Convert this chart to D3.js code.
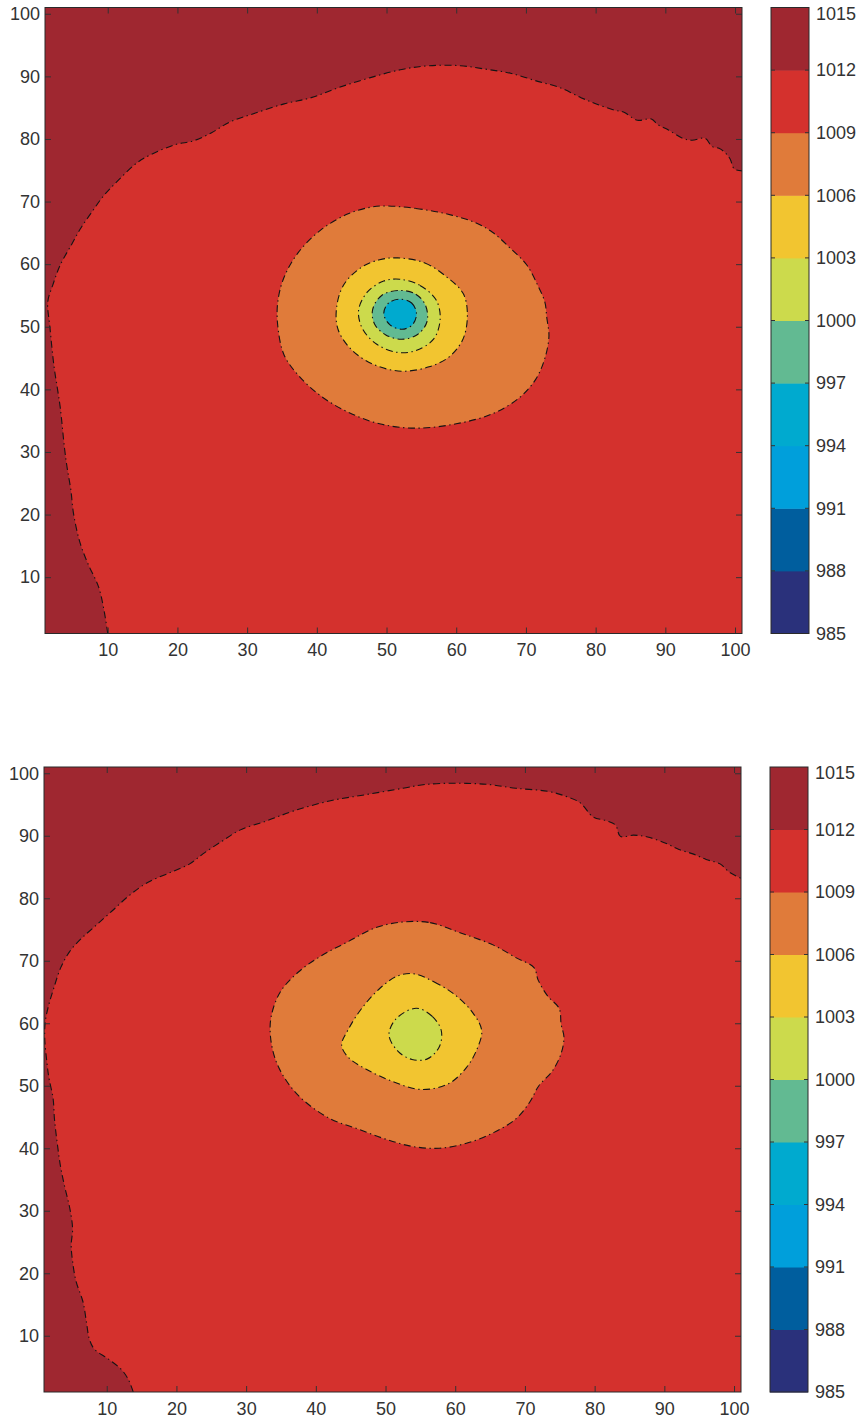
<!DOCTYPE html>
<html>
<head>
<meta charset="utf-8">
<script src="https://cdn.jsdelivr.net/npm/d3@7/dist/d3.min.js"></script>
<style>
  html, body { margin: 0; padding: 0; background: #ffffff; }
  svg { display: block; }
</style>
</head>
<body>
<svg id="chart" width="861" height="1422"></svg>
<script>
// ---- Contour levels and their fill colours (lowest band first) ----
const levels = [985, 988, 991, 994, 997, 1000, 1003, 1006, 1009, 1012, 1015];
const bandColors = [
  "#2a317b", // 985-988
  "#005e9e", // 988-991
  "#009fdb", // 991-994
  "#00aacf", // 994-997
  "#62ba92", // 997-1000
  "#ccda4c", // 1000-1003
  "#f2c530", // 1003-1006
  "#e07b3a", // 1006-1009
  "#d4312d", // 1009-1012
  "#9f2730"  // 1012-1015
];
const xTicks = [10, 20, 30, 40, 50, 60, 70, 80, 90, 100];
const yTicks = [10, 20, 30, 40, 50, 60, 70, 80, 90, 100];
const gridExtent = [1, 101];

// ---- Upper field: isobars as [x, y] grid coordinates ----
// 1012 hPa isobar runs from the bottom edge to the right edge
const upper1012 = [[10,1],[9.5,4.5],[8.7,8.4],[7.1,12.3],[6,15.6],[5.1,20.1],[4.7,24],[4.2,27.3],[3.8,30.6],[3.2,37],[2.8,40],[2.3,43.6],[1.7,50],[1.4,54],[2.1,56.6],[3.2,59.9],[4.8,63.1],[6.1,65.7],[7.7,68.3],[9.4,70.9],[11.6,73.5],[14.2,76.2],[16.2,77.5],[19.7,79.1],[22.3,79.7],[24.9,81],[27.5,82.7],[30.8,84],[35.3,85.6],[39.2,86.6],[43.1,88.2],[47.7,89.8],[52.2,91.1],[56.1,91.7],[60.6,91.7],[64.5,91.1],[67.8,90.5],[71.7,89.2],[74.9,88.2],[77.9,86.6],[80.1,85.6],[82.7,84.6],[84,84.3],[86,83],[88,83.2],[88.9,82.3],[90.5,81.4],[92.5,80.1],[93.8,79.8],[95.7,80.1],[96.7,78.8],[97.7,78.5],[98.6,77.8],[99.3,76.8],[99.9,75.2],[101,74.9]];
const upper1009 = [[49.9,69.3],[54.2,68.9],[58.7,68],[62.6,66.7],[65.2,65.1],[67.8,62.5],[70.1,59.9],[71.7,56.6],[72.7,54],[73,51.4],[73.3,48.5],[72.7,44.9],[71.4,41.6],[69.1,38.7],[65.2,36.1],[60,34.5],[54.2,33.8],[49,34.5],[44.4,36.4],[40.5,39],[37.3,42.3],[35.3,45.5],[34.4,50.1],[34.4,54],[35.3,57.9],[37.3,61.8],[40.5,65.4],[44.4,68],[47.7,69.1]];
const upper1006 = [[51.6,61],[55.5,60.2],[58.7,57.9],[61,55.3],[61.6,52.1],[61,48.1],[59,45.2],[56.1,43.6],[52.2,42.9],[48.3,43.9],[45.1,46.2],[43.1,49.4],[42.8,52.7],[43.8,56.6],[46.4,59.5],[49,60.7]];
const upper1003 = [[51.9,57.6],[54.8,56.6],[57.1,54.3],[57.7,51.4],[56.8,48.1],[54.2,46.2],[51.6,45.9],[48.6,47.2],[46.5,49.8],[46,52.7],[47.3,55.6],[49.6,57.3]];
const upper1000 = [[51.9,55.8],[54.2,55.2],[55.6,53.4],[55.8,50.8],[54.5,48.8],[52.2,48],[49.9,48.7],[48.3,50.4],[48,52.7],[49.3,55]];
const upper997 = [[51.9,54.4],[53.6,53.8],[54.3,52.1],[53.7,50.3],[52.2,49.6],[50.5,50.3],[49.6,52.1],[50.3,53.8]];

// ---- Lower field ----
const lower1012 = [[13.8,1],[13.1,3],[12.1,4.6],[10.2,6.3],[8.2,7.9],[7.5,9.5],[7.1,12.1],[6.6,15.4],[5.6,18.7],[5.1,21.9],[4.9,24.5],[5.1,27.1],[4.7,30.4],[4,33.7],[3.4,36.9],[2.9,40.8],[2.5,44.7],[2.3,48],[1.7,51.3],[1.4,53.9],[1.1,57.8],[1.2,60.4],[1.7,63],[2.4,65.6],[3.4,68.9],[4.7,71.5],[6.3,73.5],[8.2,75.4],[10.8,78],[13.4,80.6],[16,82.6],[19.3,84.2],[21.9,85.5],[23.8,87.1],[26.5,89.1],[29.1,90.9],[33,92.4],[36.9,94],[42.1,95.6],[47.3,96.6],[52.5,97.6],[55.7,98.2],[60.3,98.4],[64.8,98.2],[68.7,97.6],[73.3,97.1],[75.9,96.3],[77.9,95.3],[79.8,93],[81.7,92.4],[83,91.7],[83.7,89.9],[85.6,90.1],[87.6,89.8],[90.2,88.8],[92.1,87.8],[94.1,87.1],[96,86.2],[98,85.5],[99.3,84.2],[101,83.2]];
const lower1009 = [[52.5,76.2],[56.4,76.1],[60.9,74.4],[65.5,72.5],[68.7,70.5],[71.3,68.9],[71.9,66.9],[73.3,64.3],[74.9,62.4],[75.2,59.8],[75.6,57.8],[75.2,55.2],[73.9,52.3],[72,50],[70.7,47.4],[68.7,44.7],[65.5,42.5],[61.6,40.8],[57.7,40],[53.8,40.3],[49.9,41.5],[46,43.1],[42.1,44.7],[38.2,47.7],[35.9,50.6],[34.3,53.9],[33.5,57.8],[33.6,61.1],[34.9,65],[37.5,68.2],[40.8,70.8],[44.7,73.1],[48.6,75.3]];
const lower1006 = [[54.1,67.9],[57,66.6],[59.9,64.6],[62.5,61.7],[63.8,58.8],[63.1,55.8],[61.6,52.9],[59,50.3],[55.1,49.4],[51.2,50.6],[47.3,52.6],[44.7,54.5],[43.7,56.5],[44.7,59.1],[46.6,62.4],[49.2,65.6],[51.8,67.6]];
const lower1003 = [[54.4,62.4],[56.7,61.1],[58,58.8],[57.7,56.2],[56,54.3],[53.8,54.2],[51.8,55.5],[50.5,58.1],[51.5,60.7]];

const panels = [
  {
    id: "upper", left: 45, top: 7.5, width: 697, height: 626, cbLeft: 771,
    isobars: [
      { level: 1012, pts: upper1012, open: true },
      { level: 1009, pts: upper1009 },
      { level: 1006, pts: upper1006 },
      { level: 1003, pts: upper1003 },
      { level: 1000, pts: upper1000 },
      { level: 997,  pts: upper997 }
    ]
  },
  {
    id: "lower", left: 44, top: 767, width: 697, height: 625, cbLeft: 770,
    isobars: [
      { level: 1012, pts: lower1012, open: true },
      { level: 1009, pts: lower1009 },
      { level: 1006, pts: lower1006 },
      { level: 1003, pts: lower1003 }
    ]
  }
];

const svg = d3.select("#chart");
const FONT = "'Liberation Sans', Arial, Helvetica, sans-serif";
const INK = "#333333";
const bandOf = lvl => bandColors[levels.indexOf(lvl) - 1];

panels.forEach(p => {
  const x = d3.scaleLinear().domain(gridExtent).range([p.left, p.left + p.width]);
  const y = d3.scaleLinear().domain(gridExtent).range([p.top + p.height, p.top]);
  const g = svg.append("g");

  g.append("clipPath").attr("id", "clip-" + p.id)
    .append("rect")
    .attr("x", p.left).attr("y", p.top)
    .attr("width", p.width).attr("height", p.height);

  const plot = g.append("g").attr("clip-path", `url(#clip-${p.id})`);

  // highest band fills the whole field
  plot.append("rect")
    .attr("x", p.left).attr("y", p.top)
    .attr("width", p.width).attr("height", p.height)
    .attr("fill", bandColors[bandColors.length - 1]);

  const openLine = d3.line().x(d => x(d[0])).y(d => y(d[1])).curve(d3.curveCatmullRom.alpha(0.5));
  const closedLine = d3.line().x(d => x(d[0])).y(d => y(d[1])).curve(d3.curveCatmullRomClosed.alpha(0.5));

  // filled regions, outermost isobar first
  p.isobars.forEach(c => {
    let d;
    if (c.open) {
      // close along the outside of the lower-right corner of the grid
      const xr = x(gridExtent[1]) + 20, yb = y(gridExtent[0]) + 20;
      d = openLine(c.pts) + `L${xr},${y(c.pts[c.pts.length - 1][1])}L${xr},${yb}L${x(c.pts[0][0])},${yb}Z`;
    } else {
      d = closedLine(c.pts);
    }
    plot.append("path").attr("d", d).attr("fill", bandOf(c.level)).attr("stroke", "none");
  });

  // isobar lines, dash-dot
  p.isobars.forEach(c => {
    plot.append("path")
      .attr("d", c.open ? openLine(c.pts) : closedLine(c.pts))
      .attr("fill", "none")
      .attr("stroke", "#141414")
      .attr("stroke-width", 1.1)
      .attr("stroke-dasharray", "7,3.5,1.4,3.5");
  });

  // axes with inward ticks on all four sides
  const tickLen = 6;
  const axes = [
    { ax: d3.axisBottom(x).tickValues(xTicks).tickSize(-tickLen).tickPadding(10), t: `translate(0,${p.top + p.height})`, labels: true },
    { ax: d3.axisLeft(y).tickValues(yTicks).tickSize(-tickLen).tickPadding(5), t: `translate(${p.left},0)`, labels: true },
    { ax: d3.axisTop(x).tickValues(xTicks).tickSize(-tickLen), t: `translate(0,${p.top})`, labels: false },
    { ax: d3.axisRight(y).tickValues(yTicks).tickSize(-tickLen), t: `translate(${p.left + p.width},0)`, labels: false }
  ];
  axes.forEach(a => {
    const ag = g.append("g").attr("transform", a.t).call(a.ax);
    ag.select(".domain").remove();
    ag.selectAll(".tick line").attr("stroke", INK).attr("stroke-width", 1);
    if (a.labels) {
      ag.selectAll(".tick text")
        .attr("fill", INK).style("font-family", FONT).style("font-size", "18px");
    } else {
      ag.selectAll(".tick text").remove();
    }
  });

  g.append("rect")
    .attr("x", p.left).attr("y", p.top)
    .attr("width", p.width).attr("height", p.height)
    .attr("fill", "none").attr("stroke", "#2a2a2a").attr("stroke-width", 1);

  // colour bar
  const cbW = 38;
  const cy = d3.scaleLinear().domain([levels[0], levels[levels.length - 1]]).range([p.top + p.height, p.top]);
  const cb = g.append("g");
  cb.selectAll("rect.band")
    .data(d3.range(levels.length - 1))
    .join("rect")
    .attr("class", "band")
    .attr("x", p.cbLeft)
    .attr("y", i => cy(levels[i + 1]))
    .attr("width", cbW)
    .attr("height", i => cy(levels[i]) - cy(levels[i + 1]) + 0.5)
    .attr("fill", i => bandColors[i]);

  const inner = levels.slice(1, -1);
  cb.selectAll("line.tl").data(inner).join("line")
    .attr("x1", p.cbLeft).attr("x2", p.cbLeft + 4)
    .attr("y1", d => cy(d)).attr("y2", d => cy(d))
    .attr("stroke", INK).attr("stroke-width", 1);
  cb.selectAll("line.tr").data(inner).join("line")
    .attr("x1", p.cbLeft + cbW - 4).attr("x2", p.cbLeft + cbW)
    .attr("y1", d => cy(d)).attr("y2", d => cy(d))
    .attr("stroke", INK).attr("stroke-width", 1);

  cb.append("rect")
    .attr("x", p.cbLeft).attr("y", p.top)
    .attr("width", cbW).attr("height", p.height)
    .attr("fill", "none").attr("stroke", "#2a2a2a").attr("stroke-width", 1);

  // labels sit on the band edges; the top one is kept inside the page
  cb.selectAll("text").data(levels).join("text")
    .attr("x", p.cbLeft + cbW + 7)
    .attr("y", d => Math.max(cy(d), p.top + 6))
    .attr("dy", "0.35em")
    .attr("fill", INK)
    .style("font-family", FONT)
    .style("font-size", "18px")
    .text(d => d);
});
</script>
</body>
</html>
